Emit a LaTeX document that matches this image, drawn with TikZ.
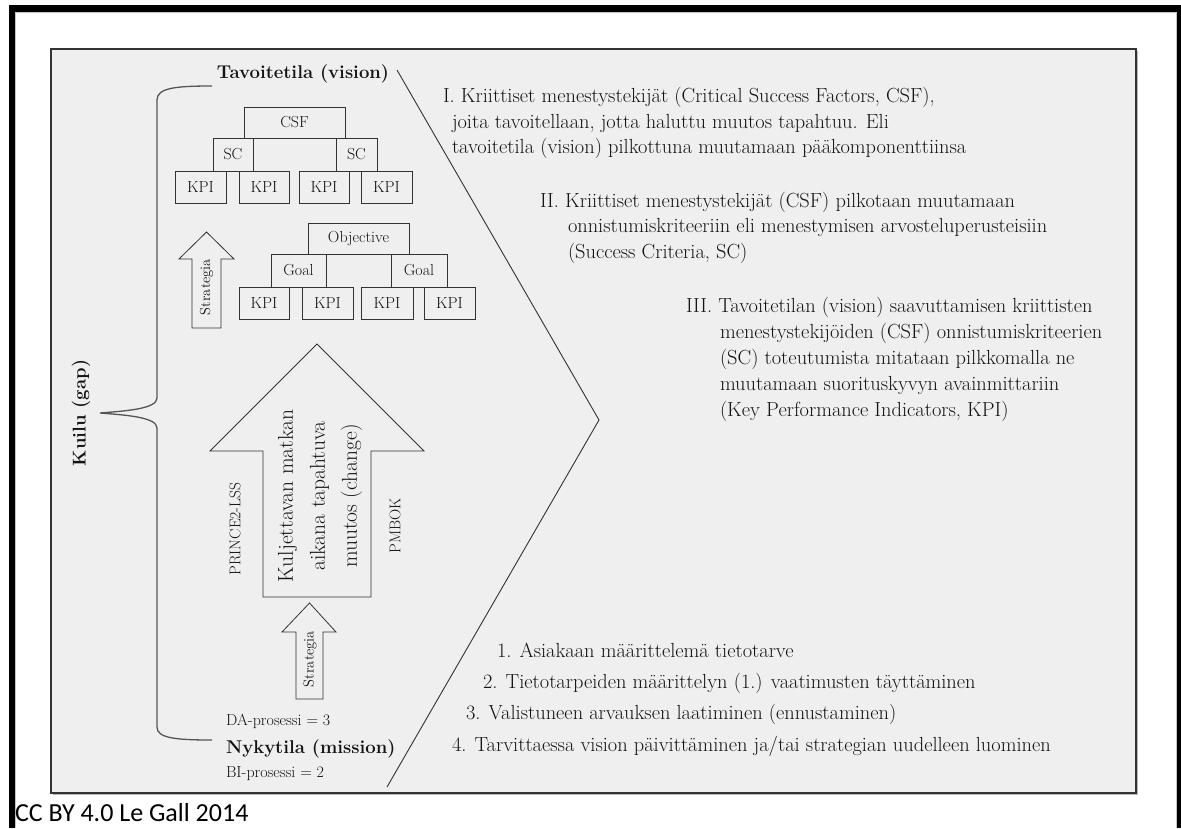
\documentclass[tikz,border=0pt]{standalone}
\usepackage{fontspec}
\newfontfamily\ccsans{Carlito}
\definecolor{panelfill}{HTML}{EFEFEF}
\definecolor{ink}{HTML}{141414}
\definecolor{edge}{HTML}{333333}
\definecolor{bracegray}{HTML}{555555}
\begin{document}
\begin{tikzpicture}[x=1pt,y=-1pt,
  every node/.style={text=ink,inner sep=0pt,outer sep=0pt},
  kbox/.style={draw=edge,line width=0.8pt,minimum height=#1,font=\fontsize{16}{18}\selectfont},
  kbox/.default=32pt,
  body/.style={anchor=base west,font=\fontsize{20.4}{24}\selectfont},
  small/.style={font=\fontsize{16}{18}\selectfont},
  head/.style={font=\bfseries\fontsize{18.5}{20}\selectfont},
  blockarrow/.style={draw=edge,line width=0.8pt,line join=miter}]

\useasboundingbox (0,0) rectangle (1181,828);
\fill[white] (0,0) rectangle (1181,828);

% outer black frame (open at the bottom)
\fill[black] (8.5,5) rectangle (1181,11.5);
\fill[black] (8.5,5) rectangle (15,828);
\fill[black] (1176.5,5) rectangle (1181,828);
\draw[gray!45,line width=0.8pt] (15.4,12) -- (1176,12);
\draw[gray!45,line width=0.8pt] (15.4,12) -- (15.4,828);
\draw[gray!45,line width=0.8pt] (1176,12) -- (1176,828);

% grey panel with a slight shadow
\fill[gray!55] (52.5,50.5) rectangle (1137.5,794.5);
\draw[edge,line width=1.2pt,fill=panelfill] (51,49) rectangle (1136,793);

% chevron separating the two halves
\draw[edge,line width=0.9pt,line join=miter] (397,70) -- (599,420) -- (387,787);

% brace spanning the gap
\draw[bracegray,line width=1.3pt] (212,86) .. controls (175,86) and (157,88) .. (157,100)
  -- (157,398) .. controls (157,409) and (125,411) .. (100,413)
  .. controls (125,415) and (157,417) .. (157,428)
  -- (157,727) .. controls (157,738) and (175,740) .. (212,740);

% headings on the left
\node[head,anchor=base] (vision) at (303,78) {Tavoitetila (vision)};
\node[head,rotate=90] (gap) at (81,413) {Kuilu (gap)};
\node[small,anchor=base west] (da) at (226,725) {DA-prosessi = 3};
\node[head,anchor=base west] (mission) at (226,753) {Nykytila (mission)};
\node[small,anchor=base west] (bi) at (226,777) {BI-prosessi = 2};

% CSF hierarchy
\node[kbox=31pt,minimum width=101pt] (csf) at (294.5,122.5) {CSF};
\node[kbox=33pt,minimum width=40pt] (sca) at (233,154.5) {SC};
\node[kbox=33pt,minimum width=41pt] (scb) at (356.5,154.5) {SC};
\node[kbox,minimum width=51pt] (k1) at (200.5,187) {KPI};
\node[kbox,minimum width=50pt] (k2) at (264,187) {KPI};
\node[kbox,minimum width=50pt] (k3) at (324,187) {KPI};
\node[kbox,minimum width=51pt] (k4) at (386.5,187) {KPI};

% Objective hierarchy
\node[kbox=31pt,minimum width=101pt] (obj) at (358.5,238.5) {Objective};
\node[kbox=33pt,minimum width=55pt] (goa) at (298.5,270.5) {Goal};
\node[kbox=33pt,minimum width=56pt] (gob) at (419,270.5) {Goal};
\node[kbox,minimum width=50pt] (k5) at (264,303) {KPI};
\node[kbox,minimum width=51pt] (k6) at (327.5,303) {KPI};
\node[kbox,minimum width=52pt] (k7) at (387,303) {KPI};
\node[kbox,minimum width=51pt] (k8) at (449.5,303) {KPI};

% upper strategy arrow
\draw[blockarrow] (192,328) -- (192,259) -- (179,259) -- (206.5,232) -- (234,259) -- (221,259) -- (221,328) -- cycle;
\node[rotate=90,font=\fontsize{14.5}{16}\selectfont] (strata) at (206.5,287) {Strategia};

% big change arrow
\draw[blockarrow] (263,597) -- (263,451) -- (210,451) -- (317,344) -- (424,451) -- (371,451) -- (371,597) -- cycle;
\node[rotate=90,align=center,font=\fontsize{21.5}{32}\selectfont] (change) at (320,496)
  {Kuljettavan matkan\\aikana tapahtuva\\muutos (change)};
\node[rotate=90,font=\fontsize{15.5}{17}\selectfont] (prince) at (235,529) {PRINCE2-LSS};
\node[rotate=90,font=\fontsize{15.5}{17}\selectfont] (pmbok) at (395,526) {PMBOK};

% lower strategy arrow
\draw[blockarrow] (296,699) -- (296,632) -- (282,632) -- (309.5,603) -- (336,632) -- (323,632) -- (323,699) -- cycle;
\node[rotate=90,font=\fontsize{14.5}{16}\selectfont] (stratb) at (310,659) {Strategia};

% explanatory text, block I
\node[body] (ia) at (443,102) {I. Kriittiset menestystekijät (Critical Success Factors, CSF),};
\node[body] (ib) at (452,128) {joita tavoitellaan, jotta haluttu muutos tapahtuu. Eli};
\node[body] (ic) at (452,153) {tavoitetila (vision) pilkottuna muutamaan pääkomponenttiinsa};

% block II
\node[body] (iia) at (540,207) {II. Kriittiset menestystekijät (CSF) pilkotaan muutamaan};
\node[body] (iib) at (568,232.5) {onnistumiskriteeriin eli menestymisen arvosteluperusteisiin};
\node[body] (iic) at (568,258) {(Success Criteria, SC)};

% block III
\node[body] (iiia) at (686,312) {III. Tavoitetilan (vision) saavuttamisen kriittisten};
\node[body] (iiib) at (720,338) {menestystekijöiden (CSF) onnistumiskriteerien};
\node[body] (iiic) at (720,364) {(SC) toteutumista mitataan pilkkomalla ne};
\node[body] (iiid) at (720,390) {muutamaan suorituskyvyn avainmittariin};
\node[body] (iiie) at (720,416) {(Key Performance Indicators, KPI)};

% numbered process steps
\node[body] (s1) at (497,657) {1. Asiakaan määrittelemä tietotarve};
\node[body] (s2) at (483,688) {2. Tietotarpeiden määrittelyn (1.) vaatimusten täyttäminen};
\node[body] (s3) at (466,719) {3. Valistuneen arvauksen laatiminen (ennustaminen)};
\node[body] (s4) at (452,751) {4. Tarvittaessa vision päivittäminen ja/tai strategian uudelleen luominen};

% licence line
\node[anchor=base west,font=\ccsans\fontsize{26}{30}\selectfont,text=black] (cc) at (15,821) {CC BY 4.0 Le Gall 2014};
\end{tikzpicture}
\end{document}
